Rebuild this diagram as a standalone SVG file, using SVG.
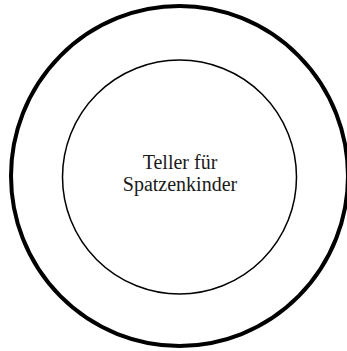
<svg xmlns="http://www.w3.org/2000/svg" width="347" height="351" viewBox="0 0 347 351">
<style>
.plate{fill:none;stroke:#000}
.lbl{font-family:"Liberation Serif","Times New Roman",serif;font-size:20px;fill:#1a1a1a;text-anchor:middle}
</style>
<rect width="347" height="351" fill="#fff"/>
<g id="outer-rim"><ellipse class="plate" cx="179.5" cy="176" rx="168.5" ry="170" stroke-width="4"/></g>
<g id="inner-plate">
<ellipse class="plate" cx="179.5" cy="177" rx="117" ry="117" stroke-width="1.5"/>
<text class="lbl" x="180" y="169">Teller für</text>
<text class="lbl" x="180" y="191">Spatzenkinder</text>
</g>
<g id="connectors"/>
</svg>
